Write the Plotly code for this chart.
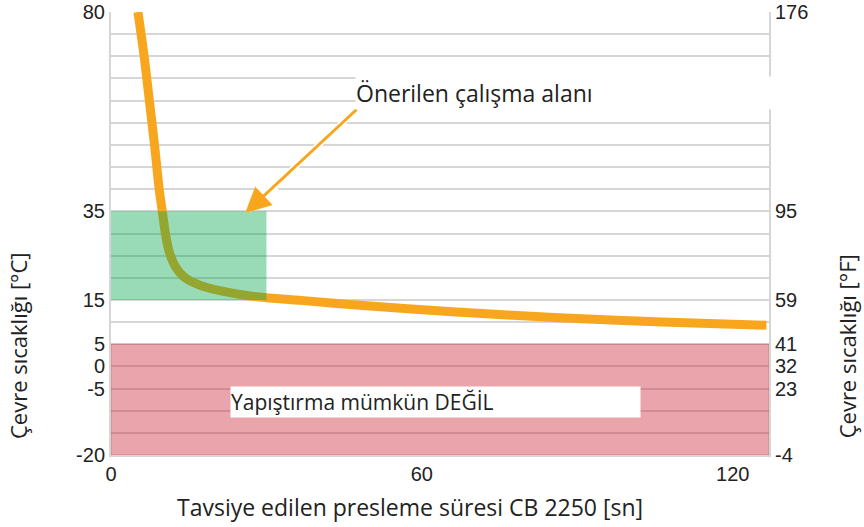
import plotly.graph_objects as go

# ---- data ----
press_time_s = [5.2, 6.4, 7.4, 8.4, 9.3, 9.9, 10.5, 11.2, 12.4, 14.3, 17.2, 21.0, 26.8, 36.7, 46.7, 66.6, 86.5, 106.4, 126.5]
temp_c = [80, 70, 60, 50, 40, 35, 30, 26.0, 22.6, 20.0, 18.3, 17.1, 15.9, 14.9, 13.9, 12.3, 11.0, 10.0, 9.3]

x_ticks = [0, 60, 120]
c_grid = list(range(-20, 81, 5))
c_labels = {80: "80", 35: "35", 15: "15", 5: "5", 0: "0", -5: "-5", -20: "-20"}
f_labels = {80: "176", 35: "95", 15: "59", 5: "41", 0: "32", -5: "23", -20: "-4"}

work_zone = dict(x0=0, x1=30, y0=15, y1=35)
no_glue_zone = dict(x0=0, x1=127, y0=-20, y1=5)

x_range = [0, 127]
y_range = [-20, 80]

ORANGE = "#F7A61E"
GRID = "#d6d6d6"
TXT = "#222222"
TICKFONT = dict(family="Liberation Sans, Arial", size=20, color=TXT)
TITLEFONT = dict(family="Open Sans", size=23, color=TXT)
YTITLEFONT = dict(family="Open Sans", size=22, color=TXT)

fig = go.Figure()
fig.add_trace(go.Scatter(
    x=press_time_s, y=temp_c, mode="lines",
    line=dict(color=ORANGE, width=9, shape="spline", smoothing=0.8),
    hoverinfo="skip", showlegend=False))
# invisible trace for secondary axis
fig.add_trace(go.Scatter(x=[None], y=[None], yaxis="y2", showlegend=False, hoverinfo="skip"))

fig.add_shape(type="rect", xref="x", yref="y", layer="above",
              fillcolor="rgba(200,30,45,0.4)", line=dict(color="rgba(190,90,100,0.5)", width=1),
              **no_glue_zone)
fig.add_shape(type="rect", xref="x", yref="y", layer="above",
              fillcolor="rgba(0,165,75,0.4)", line=dict(width=0),
              **work_zone)

# arrow (white outline then orange)
arrow_tip = (25.9, 34.6)
arrow_tail = (47.7, 58.3)
for col, w, s in [("white", 6, 1.35), (ORANGE, 3, 1.7)]:
    fig.add_annotation(x=arrow_tip[0], y=arrow_tip[1], ax=arrow_tail[0], ay=arrow_tail[1],
                       xref="x", yref="y", axref="x", ayref="y", text="",
                       showarrow=True, arrowhead=2, arrowsize=s, arrowwidth=w,
                       arrowcolor=col, standoff=0)

fig.add_annotation(x=47.1, y=61.7, xref="x", yref="y", text="Önerilen çalışma alanı",
                   showarrow=False, xanchor="left", yanchor="middle", align="left",
                   width=420, height=32, bgcolor="white", borderpad=0,
                   font=dict(family="Open Sans", size=23, color=TXT))
fig.add_annotation(x=23.0, y=-8.0, xref="x", yref="y", text="Yapıştırma mümkün DEĞİL",
                   showarrow=False, xanchor="left", yanchor="middle", align="left",
                   width=409, height=30, bgcolor="white", borderpad=0,
                   font=dict(family="Open Sans", size=21, color=TXT))

# axis titles
fig.add_annotation(x=-0.1413, y=0.246, xref="paper", yref="paper", text="Çevre sıcaklığı [°C]",
                   textangle=-90, showarrow=False, xanchor="center", yanchor="middle", font=YTITLEFONT)
fig.add_annotation(x=1.119, y=0.246, xref="paper", yref="paper", text="Çevre sıcaklığı [°F]",
                   textangle=-90, showarrow=False, xanchor="center", yanchor="middle", font=YTITLEFONT)
fig.add_annotation(x=0.097, y=-0.117, xref="paper", yref="paper",
                   text="Tavsiye edilen presleme süresi CB 2250 [sn]",
                   showarrow=False, xanchor="left", yanchor="middle", font=TITLEFONT)

fig.update_layout(
    width=864, height=527,
    margin=dict(l=111, r=95, t=12, b=72),
    paper_bgcolor="white", plot_bgcolor="white",
    xaxis=dict(range=x_range, tickvals=x_ticks, showgrid=False, zeroline=False, automargin=False,
               showline=True, linecolor=GRID, linewidth=2, ticks="",
               tickfont=TICKFONT),
    yaxis=dict(range=y_range, tickvals=c_grid, ticktext=[c_labels.get(v, "") for v in c_grid],
               showgrid=True, gridcolor=GRID, gridwidth=1.5, zeroline=False, automargin=False,
               showline=True, linecolor=GRID, linewidth=2, ticks="", tickfont=TICKFONT),
    yaxis2=dict(range=y_range, overlaying="y", side="right", automargin=False,
                tickvals=c_grid, ticktext=[f_labels.get(v, "") for v in c_grid],
                showgrid=False, zeroline=False, showline=True, linecolor=GRID, linewidth=2,
                ticks="", tickfont=TICKFONT),
)

# remove the default 8px page margin so the figure fills the window exactly
fig.write_html("out.html", config={"displayModeBar": False},
               post_script="document.body.style.margin='0';")
